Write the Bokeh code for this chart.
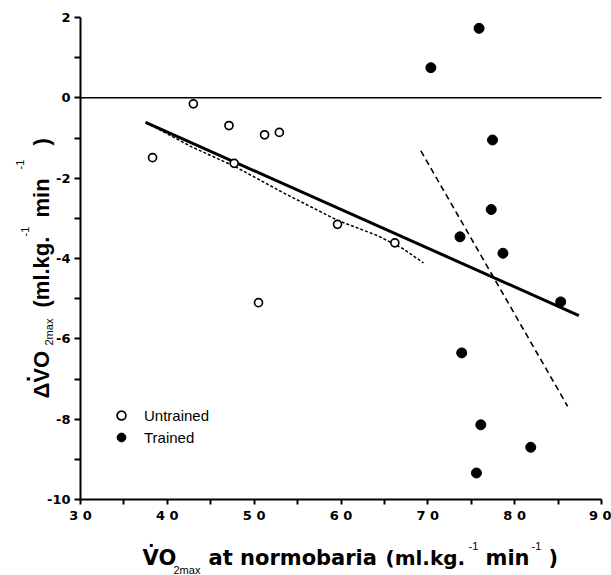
from math import pi
from bokeh.plotting import figure
from bokeh.models import FixedTicker, Label, Legend, LegendItem, LinearAxis
from bokeh.embed import file_html
from bokeh.resources import INLINE

# ---- data ----
untrained_x = [38.3, 43.0, 47.1, 51.2, 52.9, 47.7, 59.6, 66.2, 50.5]
untrained_y = [-1.49, -0.15, -0.69, -0.92, -0.86, -1.63, -3.15, -3.61, -5.10]
trained_x = [70.35, 75.9, 77.45, 77.3, 73.7, 78.65, 85.3, 73.9, 76.1, 81.85, 75.6]
trained_y = [0.75, 1.73, -1.05, -2.78, -3.46, -3.87, -5.08, -6.35, -8.14, -8.70, -9.34]
overall_fit_x = [37.5, 87.4]
overall_fit_y = [-0.61, -5.42]
untrained_fit_x = [37.5, 42.8, 47.7, 53.5, 59.6, 64.2, 67.1, 69.5]
untrained_fit_y = [-0.61, -1.22, -1.70, -2.38, -3.05, -3.43, -3.75, -4.11]
trained_fit_x = [69.2, 86.1]
trained_fit_y = [-1.32, -7.68]
zero_x = [30, 90]
zero_y = [0, 0]
x_bounds = (30, 90)
y_bounds = (-10, 2)
x_ticks = [30, 40, 50, 60, 70, 80, 90]
x_tick_labels = ["3 0", "4 0", "5 0", "6 0", "7 0", "8 0", "9 0"]
x_minor = [35, 45, 55, 65, 75, 85]
y_ticks = [2, 0, -2, -4, -6, -8, -10]
y_tick_labels = ["2", "0", "-2", "-4", "-6", "-8", "-10"]
y_minor = [1, -1, -3, -5, -7, -9]
legend_labels = ["Untrained", "Trained"]

# canvas size and axis box (px)
W, H = 611, 575
L, R, T, B = 80, 601, 17, 499
xs = (x_bounds[1] - x_bounds[0]) / (R - L)
ys = (y_bounds[1] - y_bounds[0]) / (B - T)
x_range = (x_bounds[0] - L * xs, x_bounds[1] + (W - R) * xs)
y_range = (y_bounds[0] - (H - B) * ys, y_bounds[1] + T * ys)

p = figure(width=W, height=H, x_range=x_range, y_range=y_range,
           output_backend="svg", toolbar_location=None,
           x_axis_location=None, y_axis_location=None,
           min_border_left=0, min_border_right=0, min_border_top=0, min_border_bottom=0)
p.outline_line_color = None
p.xgrid.visible = False
p.ygrid.visible = False
p.background_fill_color = "white"
p.border_fill_color = "white"

xaxis = LinearAxis(fixed_location=y_bounds[0], bounds=x_bounds,
                   ticker=FixedTicker(ticks=x_ticks, minor_ticks=x_minor))
yaxis = LinearAxis(fixed_location=x_bounds[0], bounds=y_bounds,
                   ticker=FixedTicker(ticks=y_ticks, minor_ticks=y_minor))
xaxis.major_label_overrides = dict(zip(x_ticks, x_tick_labels))
yaxis.major_label_overrides = dict(zip(y_ticks, y_tick_labels))
for ax in (xaxis, yaxis):
    ax.axis_line_width = 2
    ax.axis_line_color = "black"
    ax.major_tick_line_width = 2
    ax.minor_tick_line_width = 2
    ax.major_tick_in = 0
    ax.minor_tick_in = 0
    ax.major_label_text_font = "DejaVu Sans"
    ax.major_label_text_font_style = "bold"
    ax.major_label_text_font_size = "13px"
    ax.major_label_text_color = "black"
xaxis.major_tick_out = 5
xaxis.minor_tick_out = 5
xaxis.major_label_standoff = 3
yaxis.major_tick_out = 6
yaxis.minor_tick_out = 6
yaxis.major_label_standoff = 4
p.add_layout(xaxis, "below")
p.add_layout(yaxis, "left")

p.line(zero_x, zero_y, line_color="black", line_width=1.5)
p.line(overall_fit_x, overall_fit_y, line_color="black", line_width=3)
p.line(untrained_fit_x, untrained_fit_y, line_color="black", line_width=1.5, line_dash="3 2")
p.line(trained_fit_x, trained_fit_y, line_color="black", line_width=1.6, line_dash="6 4")

r_un = p.scatter(untrained_x, untrained_y, marker="circle", size=8, fill_color="white",
                 line_color="black", line_width=1.7)
r_tr = p.scatter(trained_x, trained_y, marker="circle", size=10, fill_color="black",
                 line_color="black", line_width=1)

legend = Legend(items=[LegendItem(label=legend_labels[0], renderers=[r_un]),
                       LegendItem(label=legend_labels[1], renderers=[r_tr])],
                location=(L + 30, (H - B) + 51), padding=0, margin=0, spacing=0,
                glyph_width=22, glyph_height=22, label_height=22, label_standoff=12,
                border_line_alpha=0, background_fill_alpha=0,
                label_text_font="Liberation Sans", label_text_font_size="15px",
                label_text_color="black")
p.add_layout(legend)

def lab(text, fx, fy, font, size, style="bold", angle=0, align="left"):
    # fx, fy: offsets from the axis corner (left, bottom), y upward
    p.add_layout(Label(x=fx + L, y=fy + (H - B), x_units="screen", y_units="screen",
                       text=text, angle=angle, text_align=align, text_baseline="alphabetic",
                       text_font=font, text_font_size=size, text_font_style=style,
                       text_color="black"))

# x-axis title pieces
lab("VO", 62, -58, "DejaVu Sans", "21px")
lab(".", 70.7, -40, "Liberation Sans", "20px", align="center")
lab("2max", 93, -70, "Liberation Sans", "11px", style="normal")
lab("at normobaria", 128, -58, "DejaVu Sans", "21px")
lab("(ml.kg.", 305, -58, "DejaVu Sans", "20px")
lab("-1", 388, -46, "Liberation Sans", "11px", style="normal")
lab("min", 405, -58, "DejaVu Sans", "21px")
lab("-1", 451, -46, "Liberation Sans", "11px", style="normal")
lab(")", 468, -58, "DejaVu Sans", "21px")

# y-axis title pieces (rotated)
A = pi / 2
lab("\u0394VO", -39, 101, "Liberation Sans", "22px", angle=A)
lab(".", -58.5, 120.5, "Liberation Sans", "22px", angle=A, align="center")
lab("2max", -32, 154, "Liberation Sans", "11px", style="normal", angle=A)
lab("(ml.kg.", -39, 192, "Liberation Sans", "22px", angle=A)
lab("-1", -56, 263, "Liberation Sans", "11px", style="normal", angle=A)
lab("min", -39, 282, "Liberation Sans", "22px", angle=A)
lab("-1", -61, 330, "Liberation Sans", "11px", style="normal", angle=A)
lab(")", -39, 354, "Liberation Sans", "22px", angle=A)

open("out.html", "w").write(file_html(p, INLINE))
